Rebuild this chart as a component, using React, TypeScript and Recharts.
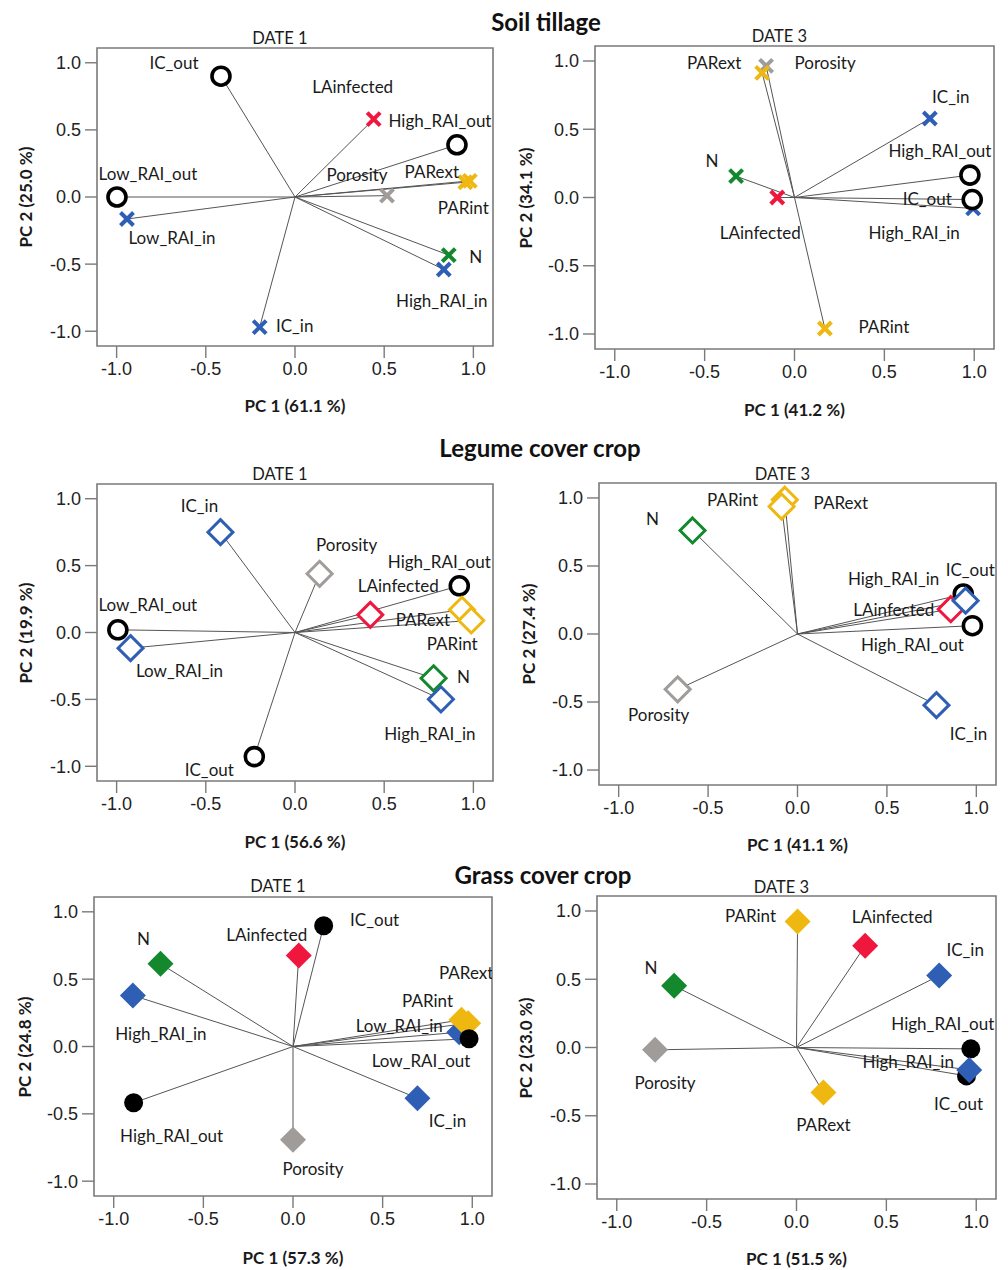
import React from 'react';
import { ScatterChart, Scatter, XAxis, YAxis, ReferenceArea } from 'recharts';

// ---------- data ----------
const TICKS = [-1, -0.5, 0, 0.5, 1];

const soilD1Names = ['IC_out', 'LAinfected', 'High_RAI_out', 'Porosity', 'PARext', 'PARint', 'Low_RAI_out', 'Low_RAI_in', 'N', 'High_RAI_in', 'IC_in'];
const soilD1PC1 = [-0.415, 0.441, 0.908, 0.516, 0.98, 0.955, -0.998, -0.942, 0.862, 0.834, -0.198];
const soilD1PC2 = [0.9, 0.58, 0.389, 0.01, 0.12, 0.11, 0.0, -0.164, -0.433, -0.54, -0.969];

const soilD3Names = ['Porosity', 'PARext', 'IC_in', 'N', 'LAinfected', 'High_RAI_out', 'High_RAI_in', 'IC_out', 'PARint'];
const soilD3PC1 = [-0.158, -0.18, 0.753, -0.325, -0.096, 0.976, 0.994, 0.989, 0.169];
const soilD3PC2 = [0.965, 0.913, 0.579, 0.156, 0.0, 0.164, -0.08, -0.015, -0.96];

const legD1Names = ['IC_in', 'Porosity', 'High_RAI_out', 'LAinfected', 'PARext', 'PARint', 'Low_RAI_out', 'Low_RAI_in', 'N', 'High_RAI_in', 'IC_out'];
const legD1PC1 = [-0.418, 0.138, 0.921, 0.422, 0.936, 0.988, -0.993, -0.922, 0.777, 0.818, -0.228];
const legD1PC2 = [0.75, 0.439, 0.349, 0.132, 0.17, 0.09, 0.02, -0.117, -0.342, -0.499, -0.928];

const legD3Names = ['PARext', 'PARint', 'N', 'IC_out', 'LAinfected', 'High_RAI_in', 'High_RAI_out', 'Porosity', 'IC_in'];
const legD3PC1 = [-0.071, -0.089, -0.587, 0.927, 0.857, 0.94, 0.978, -0.67, 0.777];
const legD3PC2 = [0.987, 0.937, 0.761, 0.294, 0.182, 0.245, 0.061, -0.407, -0.523];

const grassD1Names = ['IC_out', 'LAinfected', 'N', 'High_RAI_in', 'Low_RAI_in', 'PARint', 'PARext', 'Low_RAI_out', 'High_RAI_out', 'IC_in', 'Porosity'];
const grassD1PC1 = [0.171, 0.032, -0.739, -0.893, 0.927, 0.94, 0.977, 0.982, -0.889, 0.694, 0.0];
const grassD1PC2 = [0.896, 0.676, 0.614, 0.379, 0.106, 0.198, 0.173, 0.057, -0.418, -0.384, -0.693];

const grassD3Names = ['PARint', 'LAinfected', 'IC_in', 'N', 'High_RAI_out', 'IC_out', 'High_RAI_in', 'Porosity', 'PARext'];
const grassD3PC1 = [0.006, 0.382, 0.794, -0.681, 0.97, 0.946, 0.961, -0.787, 0.15];
const grassD3PC2 = [0.923, 0.745, 0.527, 0.452, -0.01, -0.208, -0.164, -0.017, -0.33];

// ---------- styles ----------
const COLORS: Record<string, string> = {
  IC_in: '#2f5fb4',
  High_RAI_in: '#2f5fb4',
  Low_RAI_in: '#2f5fb4',
  IC_out: '#000000',
  High_RAI_out: '#000000',
  Low_RAI_out: '#000000',
  LAinfected: '#f0173f',
  N: '#13882c',
  PARint: '#efb811',
  PARext: '#efb811',
  Porosity: '#a09c9a',
};

const LABEL_FONT = 'Lato, "Open Sans", sans-serif';
const TICK_FONT = '"Liberation Sans", Arial, sans-serif';
const DOMAIN: [number, number] = [-1.11, 1.11];

type Off = Record<string, [number, number]>;

const offSoilD1: Off = {
  IC_out: [-47, -14], LAinfected: [-21, -33], High_RAI_out: [-17, -24], Porosity: [-30, -21],
  PARext: [-38, -9], PARint: [-2, 25], Low_RAI_out: [31, -24], Low_RAI_in: [45, 18],
  N: [27, 1], High_RAI_in: [-2, 31], IC_in: [35, -2],
};
const offSoilD3: Off = {
  PARext: [-48, -10], Porosity: [59, -3], IC_in: [21, -22], High_RAI_out: [-30, -25],
  N: [-24, -16], IC_out: [-45, -1], LAinfected: [-17, 35], High_RAI_in: [-59, 24], PARint: [59, -2],
};
const offLegD1: Off = {
  IC_in: [-21, -27], Porosity: [27, -29], High_RAI_out: [-20, -24], LAinfected: [28, -29],
  PARext: [-39, 10], PARint: [-19, 23], Low_RAI_out: [30, -25], Low_RAI_in: [49, 22],
  N: [30, -2], High_RAI_in: [-11, 34], IC_out: [-45, 13],
};
const offLegD3: Off = {
  PARint: [-49, -7], PARext: [56, 3], N: [-40, -12], IC_out: [7, -25], High_RAI_in: [-72, -22],
  LAinfected: [-57, 0], High_RAI_out: [-60, 19], Porosity: [-19, 25], IC_in: [32, 28],
};
const offGrassD1: Off = {
  IC_out: [51, -6], LAinfected: [-32, -21], N: [-17, -25], High_RAI_in: [28, 38], PARext: [-2, -51],
  PARint: [-34, -19], Low_RAI_in: [-60, -7], Low_RAI_out: [-48, 22], High_RAI_out: [38, 33],
  IC_in: [30, 22], Porosity: [20, 29],
};
const offGrassD3: Off = {
  PARint: [-47, -6], LAinfected: [27, -29], IC_in: [26, -26], N: [-23, -18], High_RAI_out: [-28, -25],
  High_RAI_in: [-61, -8], IC_out: [-8, 28], Porosity: [10, 33], PARext: [0, 32],
};

type Kind = 'cross' | 'open' | 'filled';

interface PanelDef {
  names: string[];
  pc1: number[];
  pc2: number[];
  kind: Kind;
  offsets: Off;
  box: { left: number; top: number; w: number; h: number };
  date: string;
  dateY: number;
  xTitle: string;
  yTitle: string;
  xTitleY: number;
  yTitleX: number;
}

const isOut = (n: string) => n.endsWith('_out');

function makeMarker(kind: Kind) {
  return (props: any) => {
    const { cx, cy, payload } = props;
    if (cx == null || cy == null) return <g />;
    const name = payload.name as string;
    const color = COLORS[name];
    if (isOut(name)) {
      if (kind === 'filled') return <circle cx={cx} cy={cy} r={9.5} fill="#000" />;
      return <circle cx={cx} cy={cy} r={9} fill="#fff" stroke="#000" strokeWidth={3.6} />;
    }
    if (kind === 'cross') {
      const a = 6.5;
      return (
        <g stroke={color} strokeWidth={4}>
          <line x1={cx - a} y1={cy - a} x2={cx + a} y2={cy + a} />
          <line x1={cx - a} y1={cy + a} x2={cx + a} y2={cy - a} />
        </g>
      );
    }
    const h = kind === 'open' ? 12.5 : 13;
    const pts = `${cx},${cy - h} ${cx + h},${cy} ${cx},${cy + h} ${cx - h},${cy}`;
    if (kind === 'open') return <polygon points={pts} fill="#fff" stroke={color} strokeWidth={3} />;
    return <polygon points={pts} fill={color} />;
  };
}

function makeLabel(offsets: Off) {
  return (props: any) => {
    const { cx, cy, payload } = props;
    if (cx == null || cy == null) return <g />;
    const o = offsets[payload.name] || [0, 0];
    return (
      <text
        x={cx + o[0]}
        y={cy + o[1]}
        textAnchor="middle"
        dominantBaseline="central"
        fontFamily={LABEL_FONT}
        fontSize={17}
        fill="#1a1a1a"
      >
        {payload.name}
      </text>
    );
  };
}

const Empty = () => <g />;
const fmt = (v: number) => v.toFixed(1);

const YW = 80;
const XH = 50;
const MT = 10;
const MR = 12;

function PCAPanel({ p }: { p: PanelDef }) {
  const data = p.names.map((n, i) => ({ name: n, x: p.pc1[i], y: p.pc2[i] }));
  const tickStyle = { fontFamily: TICK_FONT, fontSize: 18, fill: '#222' };
  return (
    <>
      <div style={{ position: 'absolute', left: p.box.left - YW, top: p.box.top - MT }}>
        <ScatterChart
          width={p.box.w + YW + MR}
          height={p.box.h + MT + XH}
          margin={{ top: MT, right: MR, bottom: 0, left: 0 }}
        >
          <XAxis
            type="number"
            dataKey="x"
            domain={DOMAIN}
            ticks={TICKS}
            tickFormatter={fmt}
            allowDataOverflow
            axisLine={false}
            tickLine={{ stroke: '#7a7a7a', strokeWidth: 1.4 }}
            tickSize={12}
            tickMargin={4}
            height={XH}
            tick={tickStyle}
          />
          <YAxis
            type="number"
            dataKey="y"
            domain={DOMAIN}
            ticks={TICKS}
            tickFormatter={fmt}
            allowDataOverflow
            axisLine={false}
            tickLine={{ stroke: '#7a7a7a', strokeWidth: 1.4 }}
            tickSize={12}
            tickMargin={4}
            width={YW}
            tick={tickStyle}
          />
          <ReferenceArea
            x1={DOMAIN[0]}
            x2={DOMAIN[1]}
            y1={DOMAIN[0]}
            y2={DOMAIN[1]}
            fill="none"
            fillOpacity={0}
            stroke="#7a7a7a"
            strokeWidth={1.6}
            ifOverflow="visible"
          />
          {data.map((d) => (
            <Scatter
              key={'ln-' + d.name}
              data={[{ x: 0, y: 0 }, { x: d.x, y: d.y }]}
              line={{ stroke: '#555', strokeWidth: 1 }}
              shape={Empty}
              isAnimationActive={false}
            />
          ))}
          <Scatter data={data} shape={makeMarker(p.kind)} isAnimationActive={false} />
          <Scatter data={data} shape={makeLabel(p.offsets)} isAnimationActive={false} />
        </ScatterChart>
      </div>
      <div style={{ ...centerText(p.box.left + p.box.w / 2 - 15, p.dateY), fontFamily: LABEL_FONT, fontSize: 16.5, color: '#1a1a1a' }}>
        {p.date}
      </div>
      <div
        style={{
          ...centerText(p.box.left + p.box.w / 2, p.xTitleY),
          fontFamily: LABEL_FONT,
          fontSize: 17,
          fontWeight: 700,
          color: '#1a1a1a',
        }}
      >
        {p.xTitle}
      </div>
      <div
        style={{
          ...centerText(p.yTitleX, p.box.top + p.box.h / 2),
          transform: 'translate(-50%, -50%) rotate(-90deg)',
          fontFamily: LABEL_FONT,
          fontSize: 17,
          fontWeight: 700,
          color: '#1a1a1a',
        }}
      >
        {p.yTitle}
      </div>
    </>
  );
}

function centerText(x: number, y: number): React.CSSProperties {
  return {
    position: 'absolute',
    left: x,
    top: y,
    transform: 'translate(-50%, -50%)',
    whiteSpace: 'nowrap',
    lineHeight: 1,
  };
}

const panels: PanelDef[] = [
  {
    names: soilD1Names, pc1: soilD1PC1, pc2: soilD1PC2, kind: 'cross', offsets: offSoilD1,
    box: { left: 97, top: 48, w: 396, h: 298 }, date: 'DATE 1', dateY: 38,
    xTitle: 'PC 1 (61.1 %)', yTitle: 'PC 2 (25.0 %)', xTitleY: 405, yTitleX: 25,
  },
  {
    names: soilD3Names, pc1: soilD3PC1, pc2: soilD3PC2, kind: 'cross', offsets: offSoilD3,
    box: { left: 595, top: 46, w: 399, h: 303 }, date: 'DATE 3', dateY: 36,
    xTitle: 'PC 1 (41.2 %)', yTitle: 'PC 2 (34.1 %)', xTitleY: 409, yTitleX: 525,
  },
  {
    names: legD1Names, pc1: legD1PC1, pc2: legD1PC2, kind: 'open', offsets: offLegD1,
    box: { left: 97, top: 484, w: 396, h: 297 }, date: 'DATE 1', dateY: 474,
    xTitle: 'PC 1 (56.6 %)', yTitle: 'PC 2 (19.9 %)', xTitleY: 841, yTitleX: 25,
  },
  {
    names: legD3Names, pc1: legD3PC1, pc2: legD3PC2, kind: 'open', offsets: offLegD3,
    box: { left: 599, top: 483, w: 397, h: 302 }, date: 'DATE 3', dateY: 474,
    xTitle: 'PC 1 (41.1 %)', yTitle: 'PC 2 (27.4 %)', xTitleY: 844, yTitleX: 528,
  },
  {
    names: grassD1Names, pc1: grassD1PC1, pc2: grassD1PC2, kind: 'filled', offsets: offGrassD1,
    box: { left: 94, top: 897, w: 398, h: 299 }, date: 'DATE 1', dateY: 886,
    xTitle: 'PC 1 (57.3 %)', yTitle: 'PC 2 (24.8 %)', xTitleY: 1257, yTitleX: 24,
  },
  {
    names: grassD3Names, pc1: grassD3PC1, pc2: grassD3PC2, kind: 'filled', offsets: offGrassD3,
    box: { left: 597, top: 896, w: 399, h: 303 }, date: 'DATE 3', dateY: 887,
    xTitle: 'PC 1 (51.5 %)', yTitle: 'PC 2 (23.0 %)', xTitleY: 1258, yTitleX: 525,
  },
];

const sections = [
  { title: 'Soil tillage', x: 546, y: 22 },
  { title: 'Legume cover crop', x: 540, y: 448 },
  { title: 'Grass cover crop', x: 543, y: 875 },
];

export default function App() {
  return (
    <div style={{ position: 'absolute', left: 0, top: 0, width: 1008, height: 1270, background: '#fff', overflow: 'hidden' }}>
      {sections.map((s) => (
        <div
          key={s.title}
          style={{ ...centerText(s.x, s.y), fontFamily: LABEL_FONT, fontSize: 24, fontWeight: 700, color: '#111' }}
        >
          {s.title}
        </div>
      ))}
      {panels.map((p, i) => (
        <PCAPanel key={i} p={p} />
      ))}
    </div>
  );
}
